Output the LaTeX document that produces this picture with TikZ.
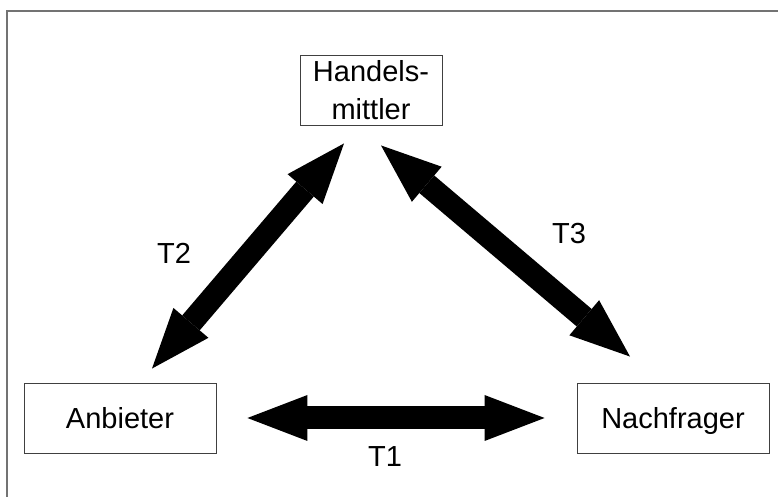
\documentclass[tikz,border=0pt]{standalone}
\usepackage{fontspec}
\setmainfont{Liberation Sans}
\usepackage{tikz}
\usetikzlibrary{arrows.meta, positioning}

\begin{document}
\begin{tikzpicture}[x=1pt, y=1pt, font=\fontsize{29}{38}\selectfont,
        party/.style={draw=black!75, line width=0.9pt, minimum width=192pt,
                      minimum height=70pt, inner sep=0pt, align=center},
        oneline/.style={text height=21pt, text depth=0pt},
        flow/.style={line width=23pt,
                     {Triangle[length=60pt, width=46pt, line width=0pt]}-{Triangle[length=60pt, width=46pt, line width=0pt]}}]
      \useasboundingbox (0,0) rectangle (778,497);
      % frame (only top and left edge visible)
      \draw[black!55, line width=1.8pt] (7,0) |- (778,486);
      \node[party, minimum width=142pt] (mittler) at (371,407) {Handels-\\mittler};
      \node[party, oneline] (anbieter) at (120,79) {Anbieter};
      \node[party, oneline] (nachfrager) at (673,79) {Nachfrager};
      % arrow ends next to the boxes
      \coordinate (t2a) at ([shift={(32,14)}]anbieter.north);
      \coordinate (t2b) at ([shift={(-27,-18)}]mittler.south);
      \coordinate (t3a) at ([shift={(10,-20)}]mittler.south);
      \coordinate (t3b) at ([shift={(-43,26)}]nachfrager.north);
      \draw[flow, shorten <=31pt, shorten >=32pt] (anbieter) -- (nachfrager);
      \draw[flow] (t2a) -- (t2b);
      \draw[flow] (t3a) -- (t3b);
      \node (t1) at (385,40) {T1};
      \node (t2) at (174,244) {T2};
      \node (t3) at (569,263) {T3};
    \end{tikzpicture}
\end{document}
